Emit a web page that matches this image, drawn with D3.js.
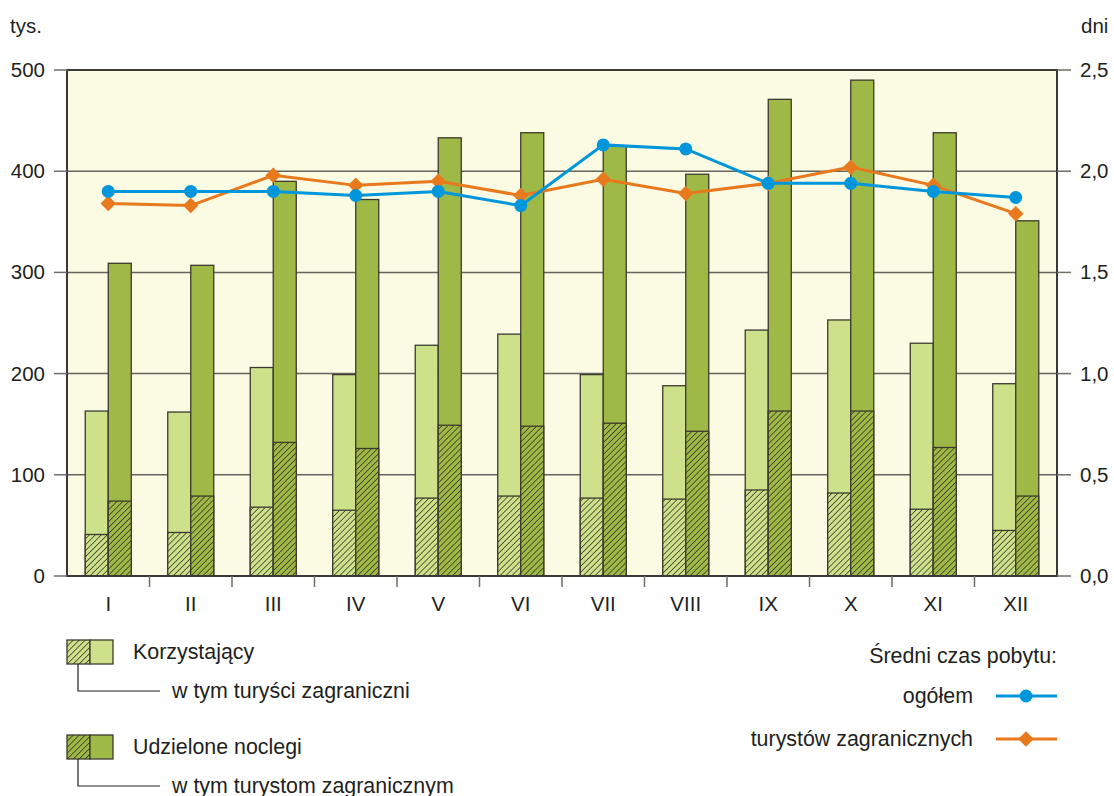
<!DOCTYPE html>
<meta charset="utf-8">
<style>
    body { margin: 0; background: #fff; }
    text { font-family: 'Liberation Sans', Arial, sans-serif; fill: #231f20; font-size: 20.5px; }
    text.leg { font-size: 21.4px; }
</style>
<script src="https://d3js.org/d3.v7.min.js"></script>
<body>
<div id="chart"></div>
<script>
    var months = ["I", "II", "III", "IV", "V", "VI", "VII", "VIII", "IX", "X", "XI", "XII"];
    // tys.
    var korzystajacy = [163, 162, 206, 199, 228, 239, 199, 188, 243, 253, 230, 190];
    var korzystajacyZagr = [41, 43, 68, 65, 77, 79, 77, 76, 85, 82, 66, 45];
    var noclegi = [309, 307, 390, 372, 433, 438, 425, 397, 471, 490, 438, 351];
    var noclegiZagr = [74, 79, 132, 126, 149, 148, 151, 143, 163, 163, 127, 79];
    // dni
    var czasOgolem = [1.90, 1.90, 1.90, 1.88, 1.90, 1.83, 2.13, 2.11, 1.94, 1.94, 1.90, 1.87];
    var czasZagr = [1.84, 1.83, 1.98, 1.93, 1.95, 1.88, 1.96, 1.89, 1.94, 2.02, 1.93, 1.79];
    var leftTicks = [0, 100, 200, 300, 400, 500];
    var rightTicks = [0, 0.5, 1, 1.5, 2, 2.5];

    var W = 1114, H = 796;
    var pLeft = 67, pRight = 1057, pTop = 70, pBottom = 576;

    var lightGreen = "#cde18b", darkGreen = "#9fb947", edge = "#3b3a2e";
    var blue = "#0096db", orange = "#e8791d";

    var svg = d3.select("#chart").append("svg")
        .attr("width", W).attr("height", H);

    var defs = svg.append("defs");
    function hatch(id, fill) {
        var p = defs.append("pattern")
            .attr("id", id)
            .attr("patternUnits", "userSpaceOnUse")
            .attr("width", 4.2).attr("height", 4.2)
            .attr("patternTransform", "rotate(45)");
        p.append("rect").attr("width", 4.2).attr("height", 4.2).attr("fill", fill);
        p.append("line").attr("x1", 0).attr("y1", 0).attr("x2", 0).attr("y2", 4.2)
            .attr("stroke", "#2b2a20").attr("stroke-width", 1.4);
    }
    hatch("hLight", lightGreen);
    hatch("hDark", darkGreen);

    var x = d3.scaleBand().domain(months).range([pLeft, pRight]).padding(0);
    var y = d3.scaleLinear().domain([0, 500]).range([pBottom, pTop]);
    var y2 = d3.scaleLinear().domain([0, 2.5]).range([pBottom, pTop]);
    var barW = 23;

    // plot background
    svg.append("rect")
        .attr("x", pLeft).attr("y", pTop)
        .attr("width", pRight - pLeft).attr("height", pBottom - pTop)
        .attr("fill", "#fbfae2");

    // gridlines
    svg.append("g").selectAll("line")
        .data(leftTicks.filter(function (d) { return d > 0 && d < 500; }))
        .enter().append("line")
        .attr("x1", pLeft).attr("x2", pRight)
        .attr("y1", function (d) { return y(d); }).attr("y2", function (d) { return y(d); })
        .attr("stroke", "#66655c").attr("stroke-width", 1.5);

    function bars(data, xoff, fill, cls) {
        svg.append("g").attr("class", cls).selectAll("rect")
            .data(data)
            .enter().append("rect")
            .attr("x", function (d, i) { return x(months[i]) + x.bandwidth() / 2 + xoff; })
            .attr("y", function (d) { return y(d); })
            .attr("width", barW)
            .attr("height", function (d) { return pBottom - y(d); })
            .attr("fill", fill)
            .attr("stroke", edge)
            .attr("stroke-width", 1.3);
    }
    bars(korzystajacy, -barW, lightGreen, "k");
    bars(korzystajacyZagr, -barW, "url(#hLight)", "kz");
    bars(noclegi, 0, darkGreen, "n");
    bars(noclegiZagr, 0, "url(#hDark)", "nz");

    // frame
    svg.append("path")
        .attr("d", "M" + pLeft + "," + pBottom + "V" + pTop + "H" + pRight + "V" + pBottom)
        .attr("fill", "none").attr("stroke", "#3a3934").attr("stroke-width", 2);
    svg.append("line")
        .attr("x1", pLeft - 1).attr("x2", pRight + 1)
        .attr("y1", pBottom).attr("y2", pBottom)
        .attr("stroke", "#3a3934").attr("stroke-width", 2);

    // left axis
    var ga = svg.append("g");
    ga.selectAll("line").data(leftTicks).enter().append("line")
        .attr("x1", pLeft - 13).attr("x2", pLeft)
        .attr("y1", function (d) { return y(d); }).attr("y2", function (d) { return y(d); })
        .attr("stroke", "#6e6d68").attr("stroke-width", 1.5);
    ga.selectAll("text").data(leftTicks).enter().append("text")
        .attr("x", 45).attr("y", function (d) { return y(d) + 7; })
        .attr("text-anchor", "end")
        .text(function (d) { return d; });

    // right axis
    var gr = svg.append("g");
    gr.selectAll("line").data(rightTicks).enter().append("line")
        .attr("x1", pRight).attr("x2", pRight + 14)
        .attr("y1", function (d) { return y2(d); }).attr("y2", function (d) { return y2(d); })
        .attr("stroke", "#6e6d68").attr("stroke-width", 1.5);
    gr.selectAll("text").data(rightTicks).enter().append("text")
        .attr("x", 1080).attr("y", function (d) { return y2(d) + 7; })
        .text(function (d) { return d3.format(".1f")(d).replace(".", ","); });

    // bottom axis
    var gb = svg.append("g");
    gb.selectAll("line").data(months.slice(1)).enter().append("line")
        .attr("x1", function (d) { return x(d); }).attr("x2", function (d) { return x(d); })
        .attr("y1", pBottom).attr("y2", pBottom + 11)
        .attr("stroke", "#6e6d68").attr("stroke-width", 1.5);
    gb.selectAll("text").data(months).enter().append("text")
        .attr("x", function (d) { return x(d) + x.bandwidth() / 2; })
        .attr("y", 611).attr("text-anchor", "middle")
        .text(function (d) { return d; });

    svg.append("text").attr("x", 10).attr("y", 33).text("tys.");
    svg.append("text").attr("x", 1081).attr("y", 33).text("dni");

    // lines
    function cx(i) { return x(months[i]) + x.bandwidth() / 2; }
    var line = d3.line()
        .x(function (d, i) { return cx(i); })
        .y(function (d) { return y2(d); });
    var diamond = d3.symbol().type(d3.symbolSquare).size(120);

    svg.append("path").datum(czasZagr).attr("d", line)
        .attr("fill", "none").attr("stroke", orange).attr("stroke-width", 3);
    svg.append("g").selectAll("path").data(czasZagr).enter().append("path")
        .attr("d", diamond)
        .attr("transform", function (d, i) { return "translate(" + cx(i) + "," + y2(d) + ") rotate(45)"; })
        .attr("fill", orange);

    svg.append("path").datum(czasOgolem).attr("d", line)
        .attr("fill", "none").attr("stroke", blue).attr("stroke-width", 3);
    svg.append("g").selectAll("circle").data(czasOgolem).enter().append("circle")
        .attr("cx", function (d, i) { return cx(i); })
        .attr("cy", function (d) { return y2(d); })
        .attr("r", 6.5).attr("fill", blue);

    // legend left
    function barLegend(yTop, fill, hatchId, label, sub) {
        var g = svg.append("g");
        g.append("rect").attr("x", 67).attr("y", yTop).attr("width", 23).attr("height", 24)
            .attr("fill", "url(#" + hatchId + ")").attr("stroke", edge).attr("stroke-width", 1.3);
        g.append("rect").attr("x", 90).attr("y", yTop).attr("width", 23).attr("height", 24)
            .attr("fill", fill).attr("stroke", edge).attr("stroke-width", 1.3);
        g.append("text").attr("class", "leg").attr("x", 133).attr("y", yTop + 19).text(label);
        g.append("path")
            .attr("d", "M78," + (yTop + 24) + "V" + (yTop + 51) + "H160")
            .attr("fill", "none").attr("stroke", "#231f20").attr("stroke-width", 1.2);
        g.append("text").attr("class", "leg").attr("x", 172).attr("y", yTop + 58).text(sub);
    }
    barLegend(640, lightGreen, "hLight", "Korzystający", "w tym turyści zagraniczni");
    barLegend(735, darkGreen, "hDark", "Udzielone noclegi", "w tym turystom zagranicznym");

    // legend right
    svg.append("text").attr("class", "leg").attr("x", 1057).attr("y", 663).attr("text-anchor", "end")
        .text("Średni czas pobytu:");
    function lineLegend(yy, color, label, isDiamond) {
        svg.append("text").attr("class", "leg").attr("x", 973).attr("y", yy + 7).attr("text-anchor", "end")
            .text(label);
        svg.append("line").attr("x1", 996).attr("x2", 1057).attr("y1", yy).attr("y2", yy)
            .attr("stroke", color).attr("stroke-width", 3);
        if (isDiamond) {
            svg.append("path").attr("d", diamond)
                .attr("transform", "translate(1026," + yy + ") rotate(45)").attr("fill", color);
        } else {
            svg.append("circle").attr("cx", 1026).attr("cy", yy).attr("r", 6.5).attr("fill", color);
        }
    }
    lineLegend(696, blue, "ogółem", false);
    lineLegend(739, orange, "turystów zagranicznych", true);
</script>
</body>
